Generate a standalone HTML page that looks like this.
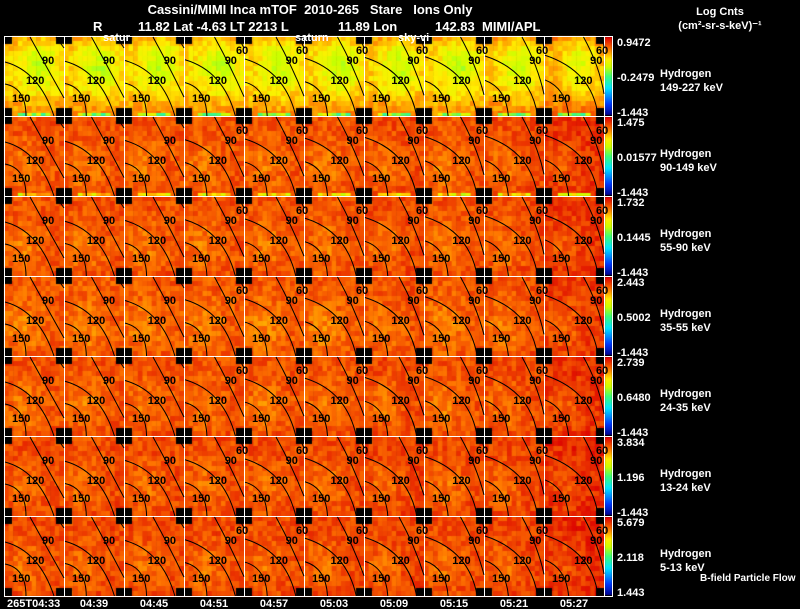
<!DOCTYPE html>
<html><head><meta charset="utf-8"><style>
html,body{margin:0;padding:0;background:#000;}
#wrap{position:relative;width:800px;height:609px;overflow:hidden;background:#000;font-family:"Liberation Sans",sans-serif;}
canvas,svg{position:absolute;left:0;top:0;}
text{font-family:"Liberation Sans",sans-serif;white-space:pre;}
</style></head><body>
<div id="wrap">
<canvas id="cv" width="800" height="609"></canvas>
<svg id="sv" width="800" height="609" xml:space="preserve"></svg>
</div>
<script>
// ---- data ----
const times = ["265T04:33","04:39","04:45","04:51","04:57","05:03","05:09","05:15","05:21","05:27"];
const channels = ["149-227 keV","90-149 keV","55-90 keV","35-55 keV","24-35 keV","13-24 keV","5-13 keV"];
const cbMax = ["0.9472","1.475","1.732","2.443","2.739","3.834","5.679"];
const cbMid = ["-0.2479","0.01577","0.1445","0.5002","0.6480","1.196","2.118"];
const cbMin = ["-1.443","-1.443","-1.443","-1.443","-1.443","-1.443","1.443"];
// normalized mean level per energy row (0=blue,1=red)
const rowLevel = [0.76,0.9,0.9,0.89,0.9,0.91,0.91];
// per-time modulation
const colShift = [0.0,0.0,0.0,0.0,0.0,0.0,0.01,0.0,0.01,0.04];
// contour offset per time (fraction of panel width)
const contourShift = [0,0.05,0.1,0.15,0.2,0.25,0.3,0.35,0.4,0.45];

const X0=4, Y0=36, PW=60, PH=80, NC=10, NR=7;
const cv=document.getElementById('cv'), ctx=cv.getContext('2d');
const sv=document.getElementById('sv'), NS="http://www.w3.org/2000/svg";
function rainbow(v){
  v=Math.max(0,Math.min(1,v));
  const stops=[[0,0,0,140],[0.15,0,60,255],[0.35,0,230,255],[0.5,60,255,120],[0.62,200,255,0],[0.72,255,240,0],[0.85,255,120,0],[1,220,0,0]];
  for(let i=1;i<stops.length;i++){if(v<=stops[i][0]){const a=stops[i-1],b=stops[i],t=(v-a[0])/(b[0]-a[0]);
    return `rgb(${Math.round(a[1]+(b[1]-a[1])*t)},${Math.round(a[2]+(b[2]-a[2])*t)},${Math.round(a[3]+(b[3]-a[3])*t)})`;}}
  return 'rgb(220,0,0)';
}
function hash(a,b,c){let h=(a*73856093)^(b*19349663)^(c*83492791);h=(h^(h>>13))*1274126177;return ((h>>>0)%1000)/1000;}
const GX=13, GY=16;
function px(c){return X0+c*PW;} function py(r){return Y0+r*PH;}
function el(tag,attrs,txt){const e=document.createElementNS(NS,tag);for(const k in attrs)e.setAttribute(k,attrs[k]);if(txt!==undefined)e.textContent=txt;sv.appendChild(e);return e;}

for(let r=0;r<NR;r++){
  for(let c=0;c<NC;c++){
    const x=px(c), y=py(r), cw=PW/GX, ch=PH/GY;
    for(let i=0;i<GX;i++)for(let j=0;j<GY;j++){
      const u=i/GX, w=j/GY;
      let v=rowLevel[r]+colShift[c];
      if(r===0){ v+= -0.14*Math.exp(-((u-0.55)**2+(w-0.35)**2)/0.1) + 0.25*Math.max(0,w-0.65) + 0.08*Math.max(0,0.15-w)*4; }
      else { v+= -0.05*Math.exp(-((u-0.3)**2+(w-0.6)**2)/0.1) + 0.06*Math.max(0,w-0.8); }
      v+= (hash(r*10+c,i,j)-0.5)*0.09;
      ctx.fillStyle=rainbow(v);
      ctx.fillRect(x+i*cw,y+j*ch,cw+0.5,ch+0.5);
    }
    if(r<2){for(let i=3;i<GX-3;i++){ctx.fillStyle=rainbow((r===0?0.45:0.6)+hash(c,i,r)*0.25);ctx.fillRect(x+i*cw,y+PH-3,cw+0.5,3);}}
    // black corners
    ctx.fillStyle='#000';
    const k=8;
    [[x,y],[x+PW-k,y],[x,y+PH-k],[x+PW-k,y+PH-k]].forEach(([a,b])=>ctx.fillRect(a,b,k,k));
  }
  // colorbar
  const cbx=605, cby=py(r)+1, cbh=PH-2;
  for(let j=0;j<cbh;j++){ctx.fillStyle=rainbow(1-j/cbh);ctx.fillRect(cbx,cby+j,7,1);}
}
// grid lines
for(let r=0;r<NR;r++)for(let c=0;c<NC;c++){
  el('rect',{x:px(c)+0.5,y:py(r)+0.5,width:PW,height:PH,fill:'none',stroke:'#fff','stroke-width':1,});
}
for(let r=0;r<NR;r++){
  el('rect',{x:604.5,y:py(r)+0.5,width:8,height:PH,fill:'none',stroke:'#fff','stroke-width':1,});
}
// contours
for(let r=0;r<NR;r++)for(let c=0;c<NC;c++){
  const x=px(c), y=py(r), s=contourShift[c]*PW*0.5;
  const g=document.createElementNS(NS,'g');
  
  
  sv.appendChild(g);
  const paths=[
    `M${x+1} ${y+48-s*0.3} Q${x+22} ${y+52} ${x+22+s*0.2} ${y+PH}`,
    `M${x+1} ${y+26-s*0.5} Q${x+35+s} ${y+35} ${x+50+s*0.3} ${y+PH}`,
    `M${x+26+s} ${y+1} Q${x+42+s} ${y+30} ${x+PW} ${y+62-s*0.3}`,
    `M${x+52+s*0.5} ${y+1} L${x+PW} ${y+12}`
  ];
  paths.forEach(d=>{const p=document.createElementNS(NS,'path');p.setAttribute('d',d);p.setAttribute('fill','none');p.setAttribute('stroke','#000');p.setAttribute('stroke-width','1');
    g.appendChild(p);});
  const labs=[["150",x+8,y+66],["120",x+22+s*0.6,y+48],["90",x+38+s*0.6,y+28]];
  if(c>=3) labs.push(["60",x+52,y+18]);
  labs.forEach(([t,lx,ly])=>{const e=document.createElementNS(NS,'text');e.setAttribute('x',lx);e.setAttribute('y',ly);e.setAttribute('font-size','11');e.setAttribute('fill','#000');e.setAttribute('font-weight','bold');e.textContent=t;
    g.appendChild(e);});
}
// right labels
for(let r=0;r<NR;r++){
  const y=py(r);
  el('text',{x:617,y:y+10,'font-size':11,'font-weight':'bold',fill:'#fff',},cbMax[r]);
  el('text',{x:617,y:y+45,'font-size':11,'font-weight':'bold',fill:'#fff',},cbMid[r]);
  el('text',{x:617,y:y+80,'font-size':11,'font-weight':'bold',fill:'#fff',},cbMin[r]);
  el('text',{x:660,y:y+41,'font-size':11,'font-weight':'bold',fill:'#fff',},'Hydrogen');
  el('text',{x:660,y:y+55,'font-size':11,'font-weight':'bold',fill:'#fff',},channels[r]);
}
for(let c=0;c<NC;c++){
  el('text',{x:px(c)+(c===0?3:30),y:607,'font-size':11,'font-weight':'bold',fill:'#fff','text-anchor':c===0?'start':'middle',},times[c]);
}
el('text',{x:310,y:14,'font-size':13,'font-weight':'bold',fill:'#fff','text-anchor':'middle',},'Cassini/MIMI Inca mTOF  2010-265   Stare   Ions Only');
el('text',{x:93,y:31,'font-size':13,'font-weight':'bold',fill:'#fff',},'R');
el('text',{x:138,y:31,'font-size':13,'font-weight':'bold',fill:'#fff',},'11.82 Lat -4.63 LT 2213 L');
el('text',{x:338,y:31,'font-size':13,'font-weight':'bold',fill:'#fff',},'11.89 Lon');
el('text',{x:435,y:31,'font-size':13,'font-weight':'bold',fill:'#fff',},'142.83  MIMI/APL');
el('text',{x:103,y:41,'font-size':11,'font-weight':'bold',fill:'#fff',},'satur');
el('text',{x:295,y:41,'font-size':11,'font-weight':'bold',fill:'#fff',},'saturn');
el('text',{x:398,y:41,'font-size':11,'font-weight':'bold',fill:'#fff',},'sky-vi');
el('text',{x:720,y:15,'font-size':11,'font-weight':'bold',fill:'#fff','text-anchor':'middle',},'Log Cnts');
el('text',{x:720,y:29,'font-size':11,'font-weight':'bold',fill:'#fff','text-anchor':'middle',},'(cm²-sr-s-keV)⁻¹');
el('text',{x:700,y:581,'font-size':10,'font-weight':'bold',fill:'#fff',},'B-field Particle Flow');
</script>
</body></html>
